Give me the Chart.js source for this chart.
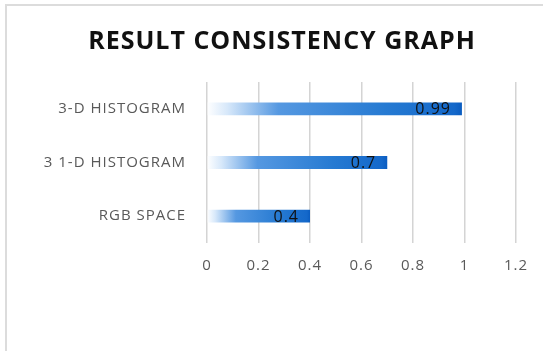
<!DOCTYPE html>
<html lang="en">
<head>
    <meta charset="UTF-8">
    <title>Result Consistency Graph</title>
    <script src="https://cdn.jsdelivr.net/npm/chart.js"></script>
    <style>
        body {
            margin: 0;
            background: #fff;
        }
        #wrap {
            position: relative;
            width: 543px;
            height: 351px;
        }
        #frame {
            position: absolute;
            left: 5px;
            top: 4px;
            right: 0;
            bottom: 0;
            border-left: 2px solid #dcdcdc;
            border-top: 2px solid #dcdcdc;
        }
        #myChart {
            position: absolute;
            left: 0;
            top: 0;
        }
    </style>
</head>
<body>

<div id="wrap">
    <div id="frame"></div>
    <canvas id="myChart" width="543" height="351"></canvas>
</div>

<script>
    const title = 'RESULT CONSISTENCY GRAPH';
    const categories = ['3-D HISTOGRAM', '3 1-D HISTOGRAM', 'RGB SPACE'];
    const values = [0.99, 0.7, 0.4];
    const xTicks = [0, 0.2, 0.4, 0.6, 0.8, 1, 1.2];

    // gradient per bar, white at the axis to blue at the bar end
    function barGradient(context) {
        const chart = context.chart;
        const area = chart.chartArea;
        if (!area) return '#1a6ccc';
        const x = chart.scales.x;
        const x0 = x.getPixelForValue(0);
        const x1 = x.getPixelForValue(values[context.dataIndex]);
        const g = chart.ctx.createLinearGradient(x0, 0, x1, 0);
        g.addColorStop(0, 'rgba(255,255,255,1)');
        g.addColorStop(0.08, 'rgba(215,232,250,1)');
        g.addColorStop(0.28, 'rgba(85,152,225,1)');
        g.addColorStop(0.7, 'rgba(38,122,210,1)');
        g.addColorStop(0.97, 'rgba(20,104,202,1)');
        g.addColorStop(1, 'rgba(10,92,192,1)');
        return g;
    }

    // the picture looks stretched sideways, so space the letters a bit
    const spacing = {
        id: 'spacing',
        beforeDraw(chart) {
            chart.ctx.letterSpacing = '1px';
        }
    };

    const titleAndLabels = {
        id: 'titleAndLabels',
        afterDraw(chart) {
            const ctx = chart.ctx;
            ctx.save();
            ctx.letterSpacing = '1px';
            ctx.font = 'bold 25px "Open Sans"';
            ctx.fillStyle = '#111';
            ctx.textAlign = 'center';
            ctx.textBaseline = 'middle';
            ctx.fillText(title, 282, 42);

            ctx.font = '16px "Open Sans"';
            ctx.textAlign = 'right';
            const meta = chart.getDatasetMeta(0);
            meta.data.forEach((bar, i) => {
                ctx.fillText(String(values[i]), bar.x - 11, bar.y + 1);
            });
            ctx.restore();
        }
    };

    const ctx = document.getElementById('myChart').getContext('2d');
    new Chart(ctx, {
        type: 'bar',
        data: {
            labels: categories,
            datasets: [{
                data: values,
                backgroundColor: barGradient,
                borderWidth: 0,
                barPercentage: 0.24,
                categoryPercentage: 1
            }]
        },
        options: {
            indexAxis: 'y',
            responsive: false,
            animation: false,
            layout: {
                padding: { left: 0, right: 27, top: 82, bottom: 0 }
            },
            plugins: {
                legend: { display: false },
                tooltip: { enabled: false },
                title: { display: false }
            },
            scales: {
                x: {
                    type: 'linear',
                    min: 0,
                    max: 1.2,
                    z: 1,
                    afterBuildTicks: (scale) => {
                        scale.ticks = xTicks.map(v => ({ value: v }));
                    },
                    afterFit: (scale) => { scale.height = 108; },
                    grid: {
                        color: '#d4d4d4',
                        lineWidth: 1.5,
                        drawTicks: false
                    },
                    border: { display: false },
                    ticks: {
                        color: '#595959',
                        font: { family: 'Open Sans', size: 15 },
                        padding: 14,
                        callback: (v) => String(v)
                    }
                },
                y: {
                    afterFit: (scale) => { scale.width = 207; },
                    grid: { display: false },
                    border: { display: false },
                    ticks: {
                        color: '#595959',
                        font: { family: 'Open Sans', size: 15 },
                        padding: 13
                    }
                }
            }
        },
        plugins: [spacing, titleAndLabels]
    });
</script>

</body>
</html>
